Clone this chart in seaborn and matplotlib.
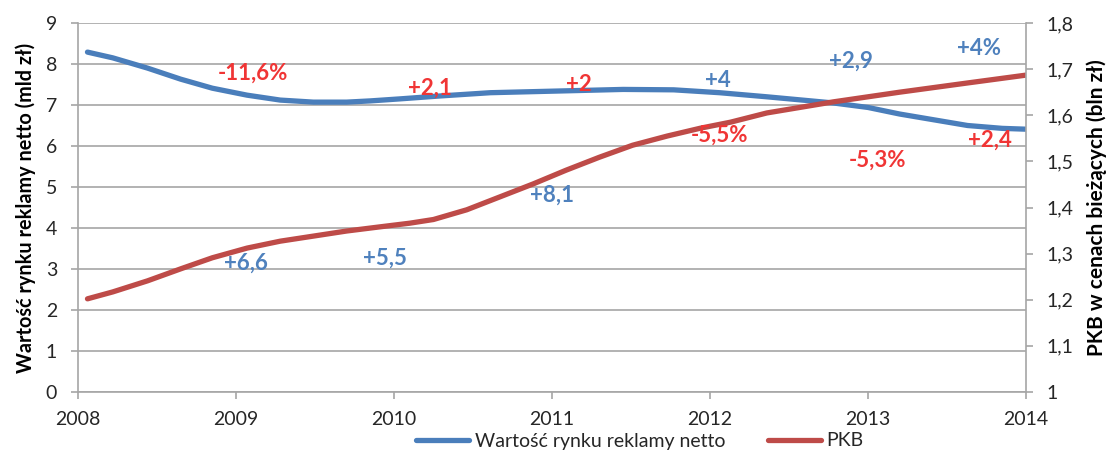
import numpy as np
import pandas as pd
import seaborn as sns
import matplotlib.pyplot as plt

# ---- data ----
rynek_x = [2008.06, 2008.22, 2008.44, 2008.65, 2008.85, 2009.07, 2009.28, 2009.49,
           2009.70, 2009.85, 2010.04, 2010.29, 2010.61, 2011.03, 2011.45, 2011.77,
           2012.06, 2012.36, 2012.78, 2013.00, 2013.20, 2013.63, 2013.85, 2014.0]
rynek_y = [8.29, 8.15, 7.90, 7.63, 7.41, 7.24, 7.12, 7.07,
           7.07, 7.10, 7.15, 7.22, 7.30, 7.34, 7.38, 7.37,
           7.30, 7.20, 7.05, 6.94, 6.78, 6.50, 6.43, 6.41]

pkb_x = [2008.06, 2008.22, 2008.44, 2008.65, 2008.85, 2009.07, 2009.28, 2009.49,
         2009.70, 2009.91, 2010.10, 2010.25, 2010.46, 2010.67, 2010.88, 2011.09,
         2011.30, 2011.51, 2011.73, 2011.94, 2012.13, 2012.36, 2012.78, 2013.20,
         2013.63, 2014.0]
pkb_y = [1.202, 1.217, 1.241, 1.267, 1.291, 1.312, 1.327, 1.338,
         1.349, 1.358, 1.366, 1.374, 1.395, 1.423, 1.451, 1.481,
         1.509, 1.535, 1.555, 1.572, 1.585, 1.605, 1.629, 1.650,
         1.670, 1.687]

series_names = ["Wartość rynku reklamy netto", "PKB"]
x_ticks = [2008, 2009, 2010, 2011, 2012, 2013, 2014]
left_ticks = [0, 1, 2, 3, 4, 5, 6, 7, 8, 9]
right_ticks = [1.0, 1.1, 1.2, 1.3, 1.4, 1.5, 1.6, 1.7, 1.8]
right_tick_labels = ["1", "1,1", "1,2", "1,3", "1,4", "1,5", "1,6", "1,7", "1,8"]

# annotations (text, x, y on left axis scale)
red_labels = ["-11,6%", "+2,1", "+2", "-5,5%", "-5,3%", "+2,4"]
red_pos = [(2009.11, 7.78), (2010.23, 7.41), (2011.17, 7.49), (2012.06, 6.27),
           (2013.06, 5.66), (2013.77, 6.15)]
blue_labels = ["+6,6", "+5,5", "+8,1", "+4", "+2,9", "+4%"]
blue_pos = [(2009.06, 3.15), (2009.94, 3.27), (2011.0, 4.80), (2012.05, 7.59),
            (2012.89, 8.07), (2013.70, 8.39)]

BLUE = "#4A7EBB"
RED = "#BE4B48"
ANN_RED = "#F03535"
ANN_BLUE = "#4F81BD"
GRID = "#A6A6A6"
TXT = "#262626"

sns.set_theme(style="white")
plt.rcParams["font.family"] = ["Lato", "DejaVu Sans"]

fig = plt.figure(figsize=(11.06, 4.51), dpi=100)
ax = fig.add_axes([78 / 1106, 1 - 392 / 451, 948 / 1106, 369 / 451])
ax2 = ax.twinx()

df1 = pd.DataFrame({"x": rynek_x, "y": rynek_y})
df2 = pd.DataFrame({"x": pkb_x, "y": pkb_y})

sns.lineplot(data=df1, x="x", y="y", ax=ax, color=BLUE, linewidth=3.8,
             label=series_names[0], sort=False, estimator=None,
             solid_capstyle="round", solid_joinstyle="round", legend=False)
sns.lineplot(data=df2, x="x", y="y", ax=ax2, color=RED, linewidth=3.8,
             label=series_names[1], sort=False, estimator=None,
             solid_capstyle="round", solid_joinstyle="round", legend=False)

ax.set_xlim(2008, 2014)
ax.set_ylim(0, 9)
ax2.set_ylim(1, 1.8)

ax.set_xticks(x_ticks)
ax.set_xticklabels([str(t) for t in x_ticks])
ax.set_yticks(left_ticks)
ax.set_yticklabels([str(t) for t in left_ticks])
ax2.set_yticks(right_ticks)
ax2.set_yticklabels(right_tick_labels)

ax.yaxis.grid(True, color=GRID, linewidth=1.2)
ax.xaxis.grid(False)
ax.set_axisbelow(True)

for a in (ax, ax2):
    a.spines["top"].set_visible(False)
    for s in ("left", "right", "bottom"):
        a.spines[s].set_color(GRID)
        a.spines[s].set_linewidth(1.2)
ax.spines["right"].set_visible(False)
ax2.spines["left"].set_visible(False)
ax2.spines["bottom"].set_visible(False)

ax.tick_params(axis="x", which="major", direction="out", length=5, width=1.2,
               color=GRID, labelsize=14, labelcolor=TXT, pad=9, bottom=True)
ax.tick_params(axis="y", which="major", direction="out", length=5, width=1.2,
               color=GRID, labelsize=14, labelcolor=TXT, pad=10, left=True)
ax2.tick_params(axis="y", which="major", direction="out", length=5, width=1.2,
                color=GRID, labelsize=14, labelcolor=TXT, pad=10, right=True)

ax.set_xlabel("")
ax.set_ylabel("Wartość rynku reklamy netto (mld zł)", fontsize=14.3,
              fontweight="bold", color="black", labelpad=7)
ax2.set_ylabel("PKB w cenach bieżących (bln zł)", fontsize=15,
               fontweight="bold", color="black", labelpad=9)

for t, (x, y) in zip(red_labels, red_pos):
    ax2.text(x, y, t, transform=ax.transData, color=ANN_RED, fontsize=16,
             fontweight="bold", ha="center", va="center", zorder=10)
for t, (x, y) in zip(blue_labels, blue_pos):
    ax2.text(x, y, t, transform=ax.transData, color=ANN_BLUE, fontsize=16,
             fontweight="bold", ha="center", va="center", zorder=10)

h1 = ax.get_lines()[0]
h2 = ax2.get_lines()[0]
fig.legend([h1, h2], series_names, loc="center", bbox_to_anchor=(640 / 1106, 1 - 441 / 451),
           ncol=2, frameon=False, fontsize=14, handlelength=2.7, columnspacing=2.2,
           handletextpad=0.3, labelcolor=TXT)

fig.savefig("out.png", dpi=100)
